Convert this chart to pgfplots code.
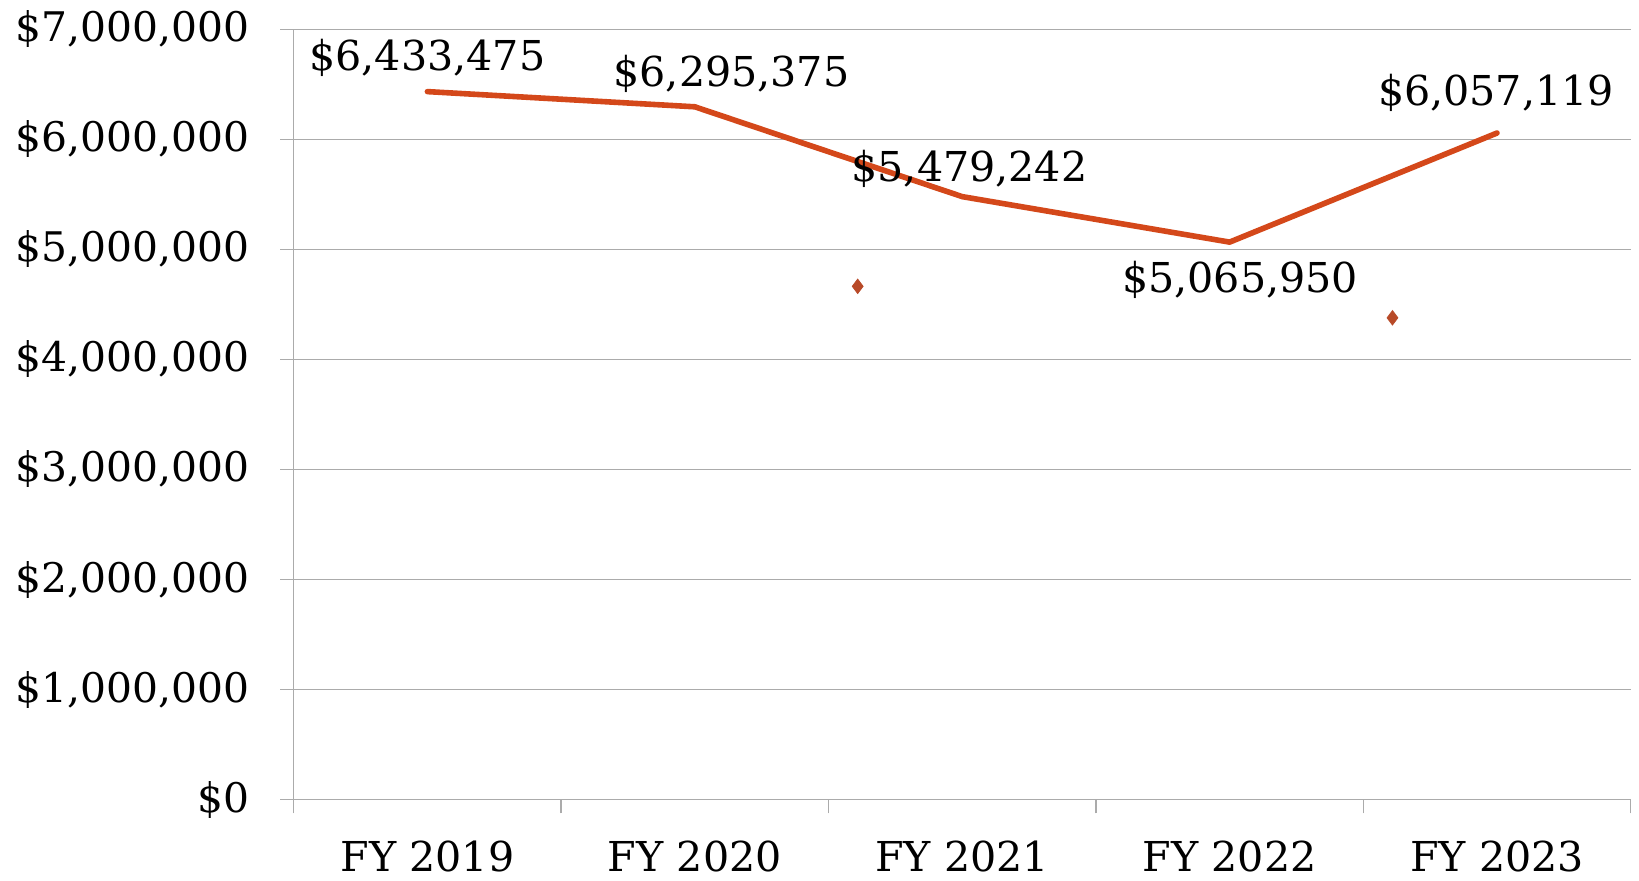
\documentclass[border=0pt]{standalone}
\usepackage{fontspec}
\setmainfont{DejaVu Serif}
\usepackage{pgfplots}
\pgfplotsset{compat=1.18}
\definecolor{lineC}{HTML}{D4481A}
\definecolor{dotC}{HTML}{B84A28}
\definecolor{gridC}{HTML}{ABABAB}
\begin{document}
\begin{tikzpicture}
\begin{axis}[
  scale only axis,
  width=668.5pt, height=385.2pt,
  xmin=-0.5, xmax=4.5,
  ymin=0, ymax=7000000,
  axis lines*=left,
  axis line style={draw=gridC, line width=0.7pt},
  xtick={0,1,2,3,4},
  xticklabels={FY 2019,FY 2020,FY 2021,FY 2022,FY 2023},
  minor xtick={-0.5,0.5,1.5,2.5,3.5,4.5},
  x tick style={draw=none},
  minor x tick style={draw=gridC, line width=0.7pt},
  ytick={0,1000000,...,7000000},
  yticklabels={{\$0},{\$1,000,000},{\$2,000,000},{\$3,000,000},{\$4,000,000},{\$5,000,000},{\$6,000,000},{\$7,000,000}},
  scaled y ticks=false,
  y tick style={draw=gridC, line width=0.7pt},
  tick align=outside,
  major tick length=6.8pt,
  minor tick length=6.8pt,
  ymajorgrids,
  major grid style={draw=gridC, line width=0.7pt},
  yticklabel style={xshift=-12pt, font=\fontsize{20.4}{23}\selectfont},
  xticklabel style={yshift=-10.5pt, font=\fontsize{20.6}{23}\selectfont},
  clip=false,
]
\addplot[lineC, line width=2.8pt, line join=round, line cap=round] coordinates {
  (0,6433475) (1,6295375) (2,5479242) (3,5065950) (4,6057119)
};
\addplot[only marks, mark=diamond*, mark size=3.6pt, dotC, mark options={fill=dotC, draw=dotC}] coordinates {
  (1.609,4664000) (3.609,4378000)
};
\begin{scope}[every node/.style={font=\fontsize{20.6}{24}\selectfont, inner sep=0pt}]
\node at (axis cs:0.0,6743000) {\$6,433,475};
\node at (axis cs:1.137,6592000) {\$6,295,375};
\node at (axis cs:2.027,5727000) {\$5,479,242};
\node at (axis cs:3.039,4720000) {\$5,065,950};
\node at (axis cs:3.996,6421000) {\$6,057,119};
\end{scope}
\coordinate (bl) at (rel axis cs:-0.2197,-0.1055);
\coordinate (tr) at (rel axis cs:1.0062,1.038);
\end{axis}
\pgfresetboundingbox
\path[use as bounding box] (bl) rectangle (tr);
\end{tikzpicture}
\end{document}
